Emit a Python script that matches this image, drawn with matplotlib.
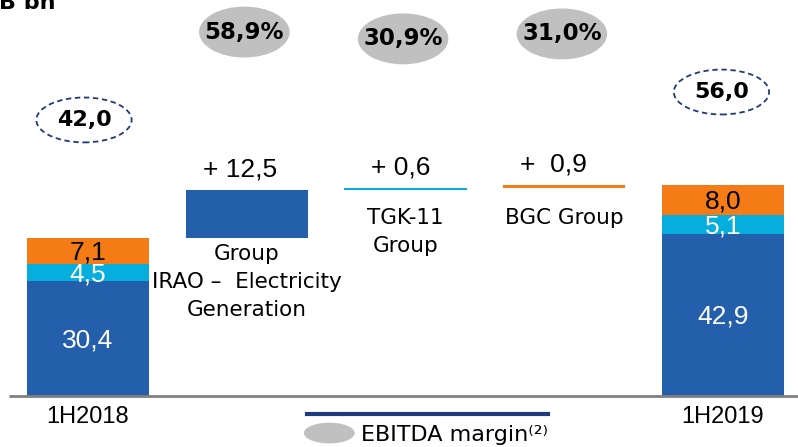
import matplotlib.pyplot as plt
from matplotlib.patches import Ellipse

# data
start_parts = [30.4, 4.5, 7.1]      # 1H2018: generation, TGK-11, BGC
end_parts = [42.9, 5.1, 8.0]        # 1H2019
deltas = [12.5, 0.6, 0.9]
delta_names = ["Group\nIRAO –  Electricity\nGeneration", "TGK-11\nGroup", "BGC Group"]
margins = ["58,9%", "30,9%", "31,0%"]
periods = ["1H2018", "1H2019"]

colors = ["#235fab", "#05aedc", "#f47b16"]
part_txt = ["white", "white", "black"]


def fmt(v):
    return f"{v:.1f}".replace(".", ",")


fig = plt.figure(figsize=(7.98, 4.47), dpi=100)
ax = fig.add_axes([0, 0, 1, 1])
ax.set_xlim(-0.554, 4.472)
ax.set_ylim(-13.5, 105.0)
ax.axis("off")

num_font = "Liberation Sans"
lab_font = "DejaVu Sans"
w = 0.77

# stacked totals
for x, parts in [(0, start_parts), (4, end_parts)]:
    b = 0
    for i, v in enumerate(parts):
        ax.bar(x, v, bottom=b, width=w, color=colors[i], edgecolor="none")
        ax.text(x, b + v / 2 - 0.4, fmt(v), ha="center", va="center", fontsize=19,
                color=part_txt[i], family=num_font)
        b += v

# waterfall steps
level = sum(start_parts)
lab_y = [40.2, 49.8, 49.8]
sign_x = [-0.04, -0.03, -0.07]
gaps = [" ", " ", "  "]
for i, d in enumerate(deltas):
    x = i + 1
    ax.bar(x, d, bottom=level, width=w, color=colors[i], edgecolor="none")
    ax.text(x + sign_x[i], level + d + 5.5, "+" + gaps[i] + fmt(d),
            ha="center", va="center", fontsize=19, family=num_font)
    ax.text(x, lab_y[i], delta_names[i], ha="center", va="top",
            fontsize=15.5, family=lab_font, linespacing=1.5)
    level += d

# baseline
ax.plot([-0.5, 4.5], [0, 0], color="#808080", lw=2, solid_capstyle="butt")

# total ellipses
tot = [sum(start_parts), sum(end_parts)]
for x, y, t in [(-0.025, 73.2, tot[0]), (3.99, 80.6, tot[1])]:
    ax.add_patch(Ellipse((x, y), 0.6, 11.9, fill=False, ec="#1f3a7a", lw=1.3, ls=(0, (3, 2))))
    ax.text(x, y, fmt(t), ha="center", va="center", fontsize=16, fontweight="bold",
            family=lab_font)

# margin ellipses
for i, (y, m) in enumerate(zip([96.5, 94.7, 96.0], margins)):
    x = i + 0.985
    ax.add_patch(Ellipse((x, y), 0.57, 13.5, color="#c0c0c0", ec="none"))
    ax.text(x, y, m, ha="center", va="center", fontsize=16.5, fontweight="bold",
            family=lab_font)

# period labels
for x, p in zip([0, 4], periods):
    ax.text(x, -5.6, p, ha="center", va="center", fontsize=17, family=num_font)

# legend
ax.plot([1.38, 2.9], [-4.8, -4.8], color="#1f3a7a", lw=3)
ax.add_patch(Ellipse((1.52, -9.8), 0.32, 5.5, color="#c0c0c0", ec="none"))
ax.text(1.72, -10.2, "EBITDA margin⁽²⁾", ha="left", va="center", fontsize=16, family=lab_font)

# unit title (cropped at top, as in the source slide)
ax.text(-0.56, 104.3, "B bn", ha="left", va="center", fontsize=16, fontweight="bold",
        family=lab_font)

fig.savefig("out.png", dpi=100)
